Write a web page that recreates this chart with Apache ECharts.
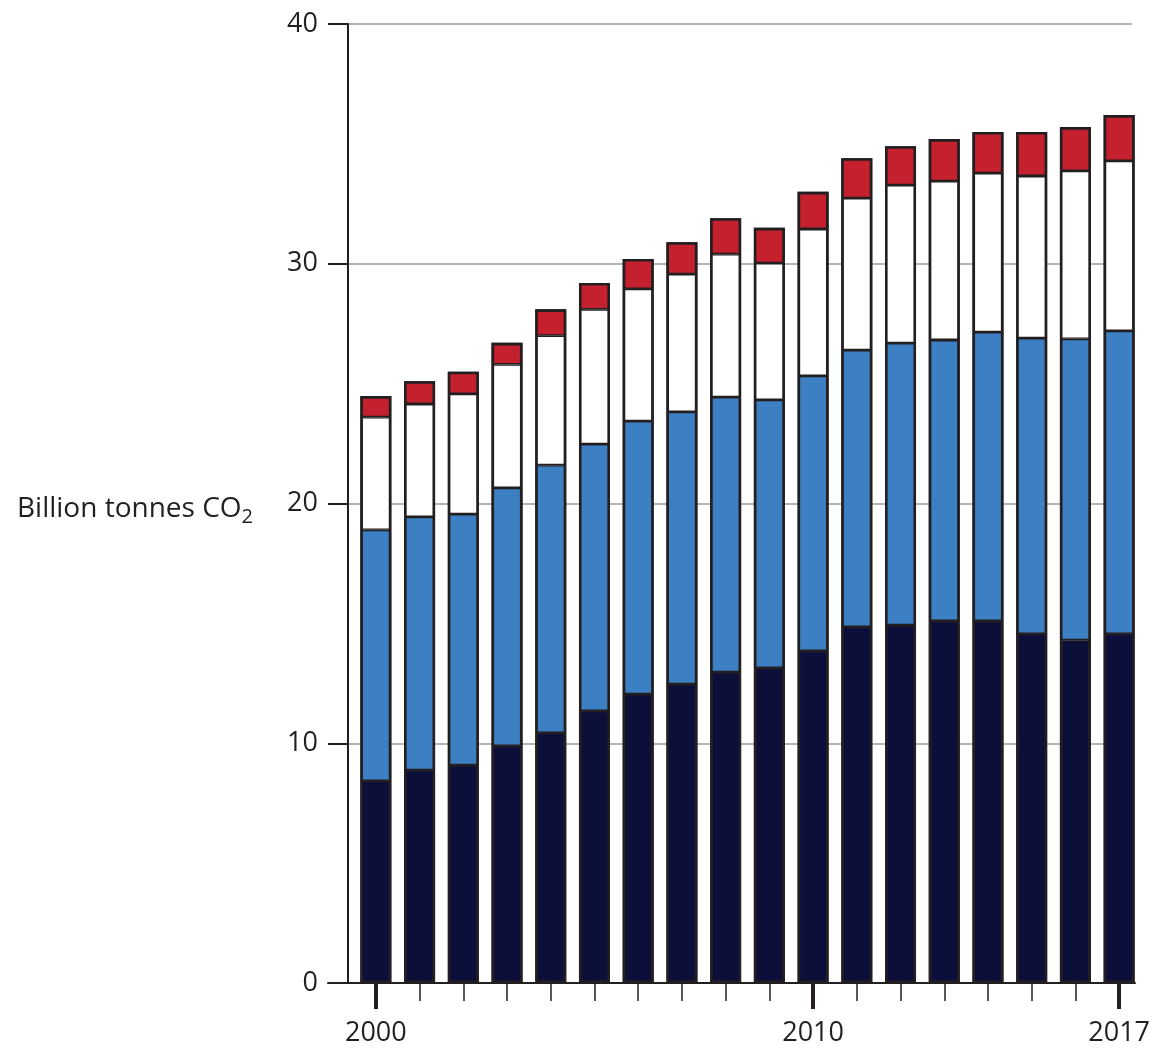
<!DOCTYPE html>
<html>
<head>
<meta charset="utf-8">
<script src="https://cdn.jsdelivr.net/npm/echarts@6/dist/echarts.min.js"></script>
<style>
html,body{margin:0;padding:0;background:#fff;}
#chart{width:1158px;height:1050px;}
</style>
</head>
<body>
<div id="chart"></div>
<script>
var years = ['2000','2001','2002','2003','2004','2005','2006','2007','2008','2009','2010','2011','2012','2013','2014','2015','2016','2017'];
var labeledYears = ['2000','2010','2017'];
var yTicks = [0, 10, 20, 30, 40];

var navyValues  = [8.43, 8.88, 9.09, 9.89, 10.43, 11.35, 12.05, 12.47, 12.97, 13.14, 13.85, 14.85, 14.93, 15.10, 15.10, 14.56, 14.30, 14.56];
var blueValues  = [10.47, 10.56, 10.47, 10.76, 11.17, 11.13, 11.39, 11.35, 11.47, 11.18, 11.47, 11.55, 11.76, 11.72, 12.05, 12.34, 12.57, 12.64];
var whiteValues = [4.70, 4.71, 5.01, 5.15, 5.40, 5.62, 5.51, 5.75, 5.96, 5.71, 6.13, 6.34, 6.59, 6.63, 6.63, 6.76, 7.00, 7.09];
var redValues   = [0.88, 0.95, 0.93, 0.90, 1.10, 1.10, 1.25, 1.33, 1.50, 1.47, 1.55, 1.66, 1.62, 1.75, 1.72, 1.84, 1.83, 1.91];
var totalValues = years.map(function (y, i) {
  return +(navyValues[i] + blueValues[i] + whiteValues[i] + redValues[i]).toFixed(2);
});

var FONT = 'Open Sans';
var INK = '#231f20';
var chart = echarts.init(document.getElementById('chart'), null, {renderer: 'canvas'});

function isMajor(idx, val) { return labeledYears.indexOf(val) >= 0; }

function barSeries(name, data, color) {
  return {
    name: name, type: 'bar', stack: 'total', data: data,
    xAxisIndex: 0, yAxisIndex: 0,
    barWidth: 31,
    itemStyle: {color: color, borderColor: INK, borderWidth: 1.4},
    emphasis: {disabled: true},
    z: 3
  };
}

var option = {
  animation: false,
  backgroundColor: '#ffffff',
  title: {
    text: 'Billion tonnes CO{sub|2}',
    left: 12, top: 486,
    textStyle: {
      fontFamily: FONT, fontSize: 28, fontWeight: 'normal', color: INK, lineHeight: 36,
      rich: {
        sub: {fontFamily: FONT, fontSize: 20, color: INK, lineHeight: 22, verticalAlign: 'bottom'}
      }
    }
  },
  grid: [
    {left: 354, right: 17, top: 24, bottom: 67},
    {left: 348, right: 26, top: 24, bottom: 67},
    {left: 328, right: 23, top: 24, bottom: 67}
  ],
  xAxis: [
    {
      type: 'category', data: years, gridIndex: 0, position: 'bottom',
      axisLine: {show: false},
      axisTick: {show: true, alignWithLabel: true, interval: isMajor, length: 26, lineStyle: {color: INK, width: 4}},
      axisLabel: {interval: isMajor, margin: 37, fontFamily: FONT, fontSize: 27, color: INK},
      splitLine: {show: false}
    },
    {
      type: 'category', data: years, gridIndex: 0, position: 'bottom',
      axisLine: {show: false},
      axisTick: {show: true, alignWithLabel: true, interval: function (i, v) { return !isMajor(i, v); }, length: 18, lineStyle: {color: INK, width: 1.5}},
      axisLabel: {show: false},
      splitLine: {show: false}
    },
    {
      type: 'value', gridIndex: 1, min: 0, max: 1, show: false
    },
    {
      type: 'value', gridIndex: 2, min: 0, max: 1, position: 'bottom',
      axisLine: {show: true, onZero: false, lineStyle: {color: INK, width: 2}},
      axisTick: {show: false}, axisLabel: {show: false}, splitLine: {show: false}
    }
  ],
  yAxis: [
    {type: 'value', gridIndex: 0, min: 0, max: 40, interval: 10, show: false},
    {
      type: 'value', gridIndex: 1, min: 0, max: 40, interval: 10,
      axisLine: {show: true, lineStyle: {color: INK, width: 2}},
      axisTick: {show: true, length: 20, lineStyle: {color: INK, width: 2}},
      axisLabel: {margin: 30, fontFamily: FONT, fontSize: 27, color: INK,
        formatter: function (v) { return yTicks.indexOf(v) >= 0 ? String(v) : ''; }},
      splitLine: {show: true, lineStyle: {color: '#b3b3b3', width: 2}}
    },
    {type: 'value', gridIndex: 2, min: 0, max: 1, show: false}
  ],
  series: [
    barSeries('Coal', navyValues, '#0d0f3b'),
    barSeries('Oil', blueValues, '#3d7fc3'),
    barSeries('Gas', whiteValues, '#ffffff'),
    barSeries('Other', redValues, '#c4202e'),
    {
      name: 'Outline', type: 'bar', data: totalValues,
      xAxisIndex: 0, yAxisIndex: 0,
      barWidth: 31, barGap: '-100%',
      itemStyle: {color: 'rgba(0,0,0,0)', borderColor: INK, borderWidth: 2.6},
      emphasis: {disabled: true}, silent: true,
      z: 4
    }
  ]
};
chart.setOption(option);
</script>
</body>
</html>
